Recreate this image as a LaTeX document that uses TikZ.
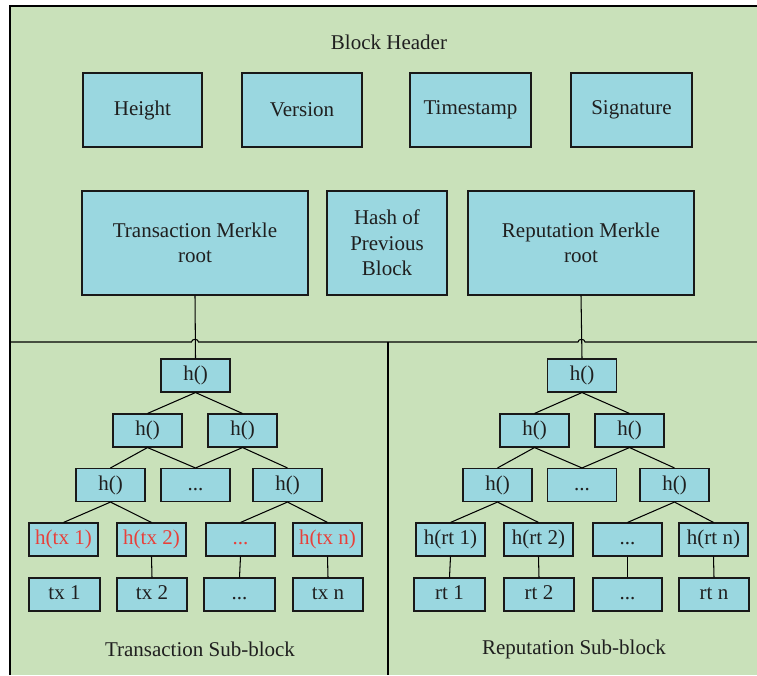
\documentclass[tikz,border=0pt]{standalone}
\usepackage{fontspec}
\setmainfont{Liberation Serif}
\begin{document}
\begin{tikzpicture}[x=1pt,y=-1pt,
  every node/.style={font=\fontsize{21}{25.5}\selectfont, text=black!88},
  hbox/.style={draw=black!90, line width=1.1pt, fill=boxc, inner sep=0pt},
  tbox/.style={hbox, minimum width=69pt, minimum height=33pt, text height=14pt, text depth=4pt},
  conn/.style={draw=black, line width=1.05pt},
  redtxt/.style={text=redc}]
\definecolor{boxc}{HTML}{9AD7E0}
\definecolor{greenc}{HTML}{C9E1BA}
\definecolor{redc}{HTML}{E8403A}
\useasboundingbox (0,0) rectangle (757,675);
\fill[greenc] (10,6) rectangle (757,675);
\draw[conn] (757,6) -- (10,6) -- (10,675);
% header
\node (hdr) at (389,42) {Block Header};
\node[hbox, minimum width=119pt, minimum height=74pt] (height) at (142.5,110) {Height};
\node[hbox, minimum width=120pt, minimum height=74pt] (version) at (302,110) {Version};
\node[hbox, minimum width=121pt, minimum height=74pt] (time) at (470.5,110) {Timestamp};
\node[hbox, minimum width=121pt, minimum height=74pt] (sig) at (631.5,110) {Signature};
\node[hbox, minimum width=226pt, minimum height=104pt, align=center] (tmr) at (195,243) {Transaction Merkle\\root};
\node[hbox, minimum width=120pt, minimum height=104pt, align=center] (hpb) at (387,243) {Hash of\\Previous\\Block};
\node[hbox, minimum width=226pt, minimum height=104pt, align=center] (rmr) at (581,243) {Reputation Merkle\\root};
% dividers with hops
\draw[conn] (10,342) -- (191.5,342) .. controls (191.5,338.5) and (198.5,338.5) .. (198.5,342)
  -- (578,342) .. controls (578,338.5) and (585,338.5) .. (585,342) -- (757,342);
\draw[conn] (388,342) -- (388,675);
% left tree
\node[tbox] (la) at (195.5,375.5) {h()};
\node[tbox] (lb1) at (147.5,430.5) {h()};
\node[tbox] (lb2) at (242.5,430.5) {h()};
\node[tbox] (lc1) at (110.5,485) {h()};
\node[tbox] (lc2) at (195.5,485) {...};
\node[tbox] (lc3) at (287.5,485) {h()};
\node[tbox, redtxt] (ld1) at (63.5,539.5) {h(tx 1)};
\node[tbox, redtxt] (ld2) at (151.5,539.5) {h(tx 2)};
\node[tbox, redtxt] (ld3) at (240.5,539.5) {...};
\node[tbox, redtxt] (ld4) at (327.5,539.5) {h(tx n)};
\node[tbox, minimum width=71pt] (le1) at (64.5,594.5) {tx 1};
\node[tbox, minimum width=70pt] (le2) at (152,594.5) {tx 2};
\node[tbox, minimum width=71pt] (le3) at (239.5,594.5) {...};
\node[tbox, minimum width=70pt] (le4) at (328,594.5) {tx n};
\node (lcap) at (200,649) {Transaction Sub-block};
\draw[conn] (tmr.south) -- (la.north);
\draw[conn] (la.south) -- (lb1.north);
\draw[conn] (la.south) -- (lb2.north);
\draw[conn] (lb1.south) -- (lc1.north);
\draw[conn] (lb1.south) -- (lc2.north);
\draw[conn] (lb2.south) -- (lc2.north);
\draw[conn] (lb2.south) -- (lc3.north);
\draw[conn] (lc1.south) -- (ld1.north);
\draw[conn] (lc1.south) -- (ld2.north);
\draw[conn] (lc3.south) -- (ld3.north);
\draw[conn] (lc3.south) -- (ld4.north);
\draw[conn] (ld2.south) -- (le2.north);
\draw[conn] (ld3.south) -- (le3.north);
\draw[conn] (ld4.south) -- (le4.north);
% right tree
\node[tbox] (ra) at (582,375.5) {h()};
\node[tbox] (rb1) at (534.5,430.5) {h()};
\node[tbox] (rb2) at (629.5,430.5) {h()};
\node[tbox] (rc1) at (497.5,485) {h()};
\node[tbox] (rc2) at (582,485) {...};
\node[tbox] (rc3) at (674.5,485) {h()};
\node[tbox] (rd1) at (450.5,539.5) {h(rt 1)};
\node[tbox] (rd2) at (538.5,539.5) {h(rt 2)};
\node[tbox] (rd3) at (627.5,539.5) {...};
\node[tbox] (rd4) at (713.5,539.5) {h(rt n)};
\node[tbox, minimum width=71pt] (re1) at (449.5,594.5) {rt 1};
\node[tbox, minimum width=70pt] (re2) at (539,594.5) {rt 2};
\node[tbox] (re3) at (627.5,594.5) {...};
\node[tbox, minimum width=70pt] (re4) at (714,594.5) {rt n};
\node (rcap) at (574,649) {Reputation Sub-block};
\draw[conn] (rmr.south) -- (ra.north);
\draw[conn] (ra.south) -- (rb1.north);
\draw[conn] (ra.south) -- (rb2.north);
\draw[conn] (rb1.south) -- (rc1.north);
\draw[conn] (rb1.south) -- (rc2.north);
\draw[conn] (rb2.south) -- (rc2.north);
\draw[conn] (rb2.south) -- (rc3.north);
\draw[conn] (rc1.south) -- (rd1.north);
\draw[conn] (rc1.south) -- (rd2.north);
\draw[conn] (rc3.south) -- (rd3.north);
\draw[conn] (rc3.south) -- (rd4.north);
\draw[conn] (rd1.south) -- (re1.north);
\draw[conn] (rd2.south) -- (re2.north);
\draw[conn] (rd3.south) -- (re3.north);
\draw[conn] (rd4.south) -- (re4.north);
\end{tikzpicture}
\end{document}
